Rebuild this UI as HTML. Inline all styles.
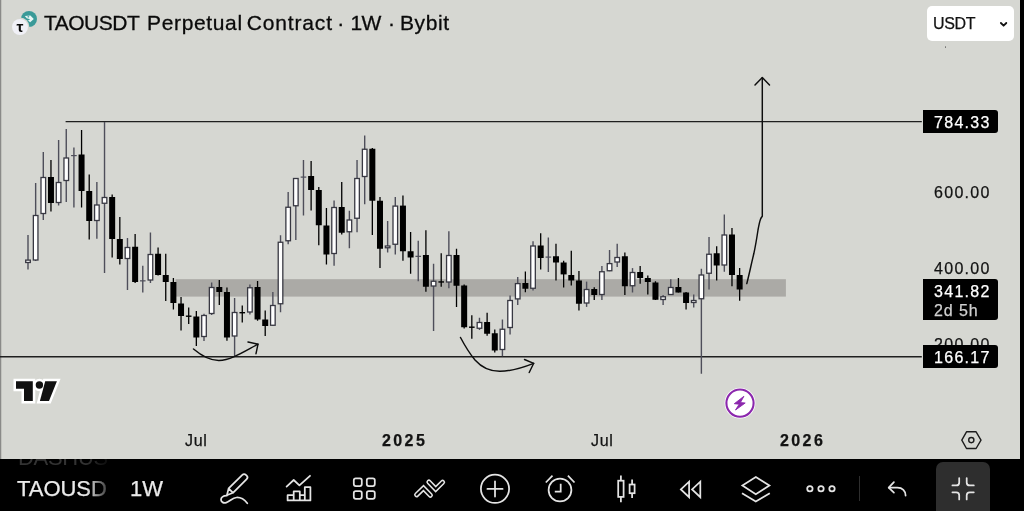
<!DOCTYPE html>
<html lang="en">
<head>
<meta charset="utf-8">
<title>TAOUSDT Perpetual Contract · 1W · Bybit</title>
<style>
  html, body { margin: 0; padding: 0; }
  body {
    width: 1024px; height: 511px; overflow: hidden; position: relative;
    background: #d6d7d2;
    font-family: "Liberation Sans", sans-serif;
    color: #131313;
  }
  .abs { position: absolute; white-space: nowrap; }
  #title, .pl, .pbox span, .tl, #usdt span, #sym, #tf, #ghost, .tau { will-change: transform; }
  #title, .pl, .pbox span, .tl, #usdt span, #sym, #tf { -webkit-text-stroke: 0.25px currentColor; }
  #chart { left: 0; top: 0; width: 1024px; height: 511px; }
  #leftedge { left: 0; top: 0; width: 2px; height: 459px; background: linear-gradient(90deg,#8a8a88 0,#8a8a88 1px,#c2c3be 1px,#c2c3be 2px); }
  #rightedge { left: 1019.8px; top: 0; width: 4.2px; height: 511px; background: #000; }
  #bar { left: 0; top: 458.6px; width: 1024px; height: 53px; background: #000; overflow: hidden; }

  #title { left: 44px; top: 11px; font-size: 21px; line-height: 24px; color: #0a0a0a; width: 420px; height: 24px; -webkit-text-stroke: 0.3px #0a0a0a !important; }
  #title .w { position: absolute; top: 0; white-space: pre; }
  .tau { left: 12.2px; top: 19.4px; width: 15.8px; height: 15.8px; border-radius: 50%; background: #f0f0f6;
         box-shadow: 0 0 0 1.4px #d6d7d2; text-align: center; font-size: 15.5px; line-height: 15px; font-weight: bold; color: #0b0b0b; }
  .teal { left: 21px; top: 10.8px; width: 16px; height: 16px; border-radius: 50%; background: #3a9a98; }

  #usdt { left: 927.3px; top: 5.6px; width: 86.8px; height: 35px; border-radius: 5px; background: #fff; }
  #usdt span { position: absolute; left: 6px; top: 9.3px; font-size: 16px; line-height: 18px; color: #131313; letter-spacing: -0.35px; }

  .pl { left: 934px; font-size: 16px; line-height: 18px; letter-spacing: 1.3px; color: #131313; }
  .pbox { left: 922.9px; width: 75px; background: #000; border-radius: 0 3px 3px 0; color: #fff; }
  .pbox span { position: absolute; left: 11.1px; font-size: 16px; line-height: 18px; letter-spacing: 1.3px; }

  .tl { font-size: 16px; line-height: 18px; color: #131313; top: 431.8px; letter-spacing: 0.7px; }
  .tl.b { font-weight: bold; letter-spacing: 2.4px; }

  #sym { left: 17px; top: 18px; font-size: 22px; line-height: 24px; color: #ebebeb; letter-spacing: -0.05px; }
  #tf { left: 129.6px; top: 18px; font-size: 22px; line-height: 24px; color: #ebebeb; letter-spacing: 0px; }
  #ghost { left: 18px; top: -13px; font-size: 22px; line-height: 24px; color: #333; letter-spacing: -0.3px; }
  #fade { left: 86px; top: 0; width: 26px; height: 53px; background: linear-gradient(90deg, rgba(0,0,0,0) 0%, rgba(0,0,0,0.9) 100%); }
  #collapse { left: 936px; top: 3px; width: 54px; height: 60px; border-radius: 7px; background: #2e2e2e; }
  #divider { left: 859px; top: 17px; width: 1px; height: 25px; background: #2e2e2e; }
</style>
</head>
<body>
<div id="leftedge" class="abs"></div>
<div id="chart" class="abs">
<svg width="1024" height="511" viewBox="0 0 1024 511" style="position:absolute;left:0;top:0">
  <!-- zone band -->
  <rect x="175.5" y="279.2" width="610.4" height="17.4" fill="#abaaa6"/>
  <!-- horizontal levels -->
  <line x1="65.6" y1="121.6" x2="921.8" y2="121.6" stroke="#1f1f1f" stroke-width="1.35"/>
  <line x1="0" y1="356.7" x2="921.8" y2="356.7" stroke="#1f1f1f" stroke-width="1.35"/>
  <!-- candles -->
  <line x1="28.00" y1="235.0" x2="28.00" y2="269.5" stroke="#4e4e5a" stroke-width="1.4"/>
<rect x="25.70" y="260.1" width="4.60" height="2.40" fill="#fff" stroke="#383842" stroke-width="1.3"/>
<line x1="35.65" y1="183.0" x2="35.65" y2="261.0" stroke="#4e4e5a" stroke-width="1.4"/>
<rect x="33.35" y="215.5" width="4.60" height="44.50" fill="#fff" stroke="#383842" stroke-width="1.3"/>
<line x1="43.30" y1="152.0" x2="43.30" y2="220.0" stroke="#4e4e5a" stroke-width="1.4"/>
<rect x="41.00" y="177.5" width="4.60" height="36.00" fill="#fff" stroke="#383842" stroke-width="1.3"/>
<line x1="50.96" y1="160.0" x2="50.96" y2="211.5" stroke="#000" stroke-width="1.3"/>
<rect x="47.96" y="177.0" width="6.00" height="26.00" fill="#000"/>
<line x1="58.61" y1="140.0" x2="58.61" y2="205.5" stroke="#4e4e5a" stroke-width="1.4"/>
<rect x="56.31" y="182.5" width="4.60" height="20.00" fill="#fff" stroke="#383842" stroke-width="1.3"/>
<line x1="66.26" y1="129.0" x2="66.26" y2="202.0" stroke="#4e4e5a" stroke-width="1.4"/>
<rect x="63.96" y="158.0" width="4.60" height="22.50" fill="#fff" stroke="#383842" stroke-width="1.3"/>
<line x1="73.91" y1="147.5" x2="73.91" y2="207.5" stroke="#4e4e5a" stroke-width="1.4"/>
<rect x="71.11" y="155.0" width="5.60" height="1.2" fill="#4e4e5a"/>
<line x1="81.56" y1="130.0" x2="81.56" y2="207.5" stroke="#000" stroke-width="1.3"/>
<rect x="78.56" y="154.5" width="6.00" height="36.50" fill="#000"/>
<line x1="89.22" y1="174.5" x2="89.22" y2="239.5" stroke="#000" stroke-width="1.3"/>
<rect x="86.22" y="191.0" width="6.00" height="30.00" fill="#000"/>
<line x1="96.87" y1="182.0" x2="96.87" y2="238.75" stroke="#4e4e5a" stroke-width="1.4"/>
<rect x="94.57" y="205.0" width="4.60" height="15.50" fill="#fff" stroke="#383842" stroke-width="1.3"/>
<line x1="104.52" y1="122.0" x2="104.52" y2="273.0" stroke="#4e4e5a" stroke-width="1.4"/>
<rect x="102.22" y="197.5" width="4.60" height="5.75" fill="#fff" stroke="#383842" stroke-width="1.3"/>
<line x1="112.17" y1="194.5" x2="112.17" y2="257.5" stroke="#000" stroke-width="1.3"/>
<rect x="109.17" y="197.0" width="6.00" height="42.00" fill="#000"/>
<line x1="119.82" y1="217.0" x2="119.82" y2="264.5" stroke="#000" stroke-width="1.3"/>
<rect x="116.82" y="239.0" width="6.00" height="20.00" fill="#000"/>
<line x1="127.48" y1="238.0" x2="127.48" y2="290.0" stroke="#4e4e5a" stroke-width="1.4"/>
<rect x="125.18" y="247.5" width="4.60" height="11.00" fill="#fff" stroke="#383842" stroke-width="1.3"/>
<line x1="135.13" y1="234.0" x2="135.13" y2="283.0" stroke="#000" stroke-width="1.3"/>
<rect x="132.13" y="246.75" width="6.00" height="35.25" fill="#000"/>
<line x1="142.78" y1="265.75" x2="142.78" y2="292.5" stroke="#4e4e5a" stroke-width="1.4"/>
<rect x="139.98" y="280.25" width="5.60" height="1.2" fill="#4e4e5a"/>
<line x1="150.43" y1="232.5" x2="150.43" y2="283.0" stroke="#4e4e5a" stroke-width="1.4"/>
<rect x="148.13" y="254.5" width="4.60" height="25.50" fill="#fff" stroke="#383842" stroke-width="1.3"/>
<line x1="158.08" y1="247.5" x2="158.08" y2="275.5" stroke="#000" stroke-width="1.3"/>
<rect x="155.08" y="253.75" width="6.00" height="21.25" fill="#000"/>
<line x1="165.74" y1="253.75" x2="165.74" y2="301.0" stroke="#000" stroke-width="1.3"/>
<rect x="162.74" y="275.0" width="6.00" height="7.00" fill="#000"/>
<line x1="173.39" y1="278.0" x2="173.39" y2="309.5" stroke="#000" stroke-width="1.3"/>
<rect x="170.39" y="282.0" width="6.00" height="21.00" fill="#000"/>
<line x1="181.04" y1="297.0" x2="181.04" y2="330.5" stroke="#000" stroke-width="1.3"/>
<rect x="178.04" y="303.5" width="6.00" height="12.50" fill="#000"/>
<line x1="188.69" y1="307.5" x2="188.69" y2="324.0" stroke="#000" stroke-width="1.3"/>
<rect x="185.89" y="315.5" width="5.60" height="1.4" fill="#000"/>
<line x1="196.34" y1="311.0" x2="196.34" y2="346.0" stroke="#000" stroke-width="1.3"/>
<rect x="193.34" y="316.5" width="6.00" height="21.00" fill="#000"/>
<line x1="204.00" y1="313.75" x2="204.00" y2="341.0" stroke="#4e4e5a" stroke-width="1.4"/>
<rect x="201.70" y="315.5" width="4.60" height="21.00" fill="#fff" stroke="#383842" stroke-width="1.3"/>
<line x1="211.65" y1="282.5" x2="211.65" y2="315.0" stroke="#4e4e5a" stroke-width="1.4"/>
<rect x="209.35" y="287.5" width="4.60" height="26.00" fill="#fff" stroke="#383842" stroke-width="1.3"/>
<line x1="219.30" y1="280.0" x2="219.30" y2="305.0" stroke="#000" stroke-width="1.3"/>
<rect x="216.30" y="287.0" width="6.00" height="5.00" fill="#000"/>
<line x1="226.95" y1="287.5" x2="226.95" y2="340.75" stroke="#000" stroke-width="1.3"/>
<rect x="223.95" y="292.0" width="6.00" height="45.50" fill="#000"/>
<line x1="234.60" y1="298.0" x2="234.60" y2="356.0" stroke="#4e4e5a" stroke-width="1.4"/>
<rect x="232.30" y="312.5" width="4.60" height="23.50" fill="#fff" stroke="#383842" stroke-width="1.3"/>
<line x1="242.26" y1="305.5" x2="242.26" y2="322.5" stroke="#000" stroke-width="1.3"/>
<rect x="239.46" y="312.0" width="5.60" height="1.4" fill="#000"/>
<line x1="249.91" y1="284.5" x2="249.91" y2="314.5" stroke="#4e4e5a" stroke-width="1.4"/>
<rect x="247.61" y="287.75" width="4.60" height="24.25" fill="#fff" stroke="#383842" stroke-width="1.3"/>
<line x1="257.56" y1="281.0" x2="257.56" y2="320.75" stroke="#000" stroke-width="1.3"/>
<rect x="254.56" y="287.0" width="6.00" height="32.50" fill="#000"/>
<line x1="265.21" y1="310.5" x2="265.21" y2="336.0" stroke="#000" stroke-width="1.3"/>
<rect x="262.21" y="319.5" width="6.00" height="6.50" fill="#000"/>
<line x1="272.86" y1="292.0" x2="272.86" y2="326.0" stroke="#4e4e5a" stroke-width="1.4"/>
<rect x="270.56" y="305.5" width="4.60" height="19.75" fill="#fff" stroke="#383842" stroke-width="1.3"/>
<line x1="280.52" y1="235.25" x2="280.52" y2="312.25" stroke="#4e4e5a" stroke-width="1.4"/>
<rect x="278.22" y="242.25" width="4.60" height="61.50" fill="#fff" stroke="#383842" stroke-width="1.3"/>
<line x1="288.17" y1="192.0" x2="288.17" y2="244.25" stroke="#4e4e5a" stroke-width="1.4"/>
<rect x="285.87" y="207.25" width="4.60" height="33.50" fill="#fff" stroke="#383842" stroke-width="1.3"/>
<line x1="295.82" y1="178.0" x2="295.82" y2="240.0" stroke="#4e4e5a" stroke-width="1.4"/>
<rect x="293.52" y="178.5" width="4.60" height="27.25" fill="#fff" stroke="#383842" stroke-width="1.3"/>
<line x1="303.47" y1="160.0" x2="303.47" y2="215.5" stroke="#4e4e5a" stroke-width="1.4"/>
<rect x="300.67" y="176.5" width="5.60" height="1.2" fill="#4e4e5a"/>
<line x1="311.12" y1="161.0" x2="311.12" y2="210.5" stroke="#000" stroke-width="1.3"/>
<rect x="308.12" y="176.0" width="6.00" height="14.00" fill="#000"/>
<line x1="318.78" y1="187.0" x2="318.78" y2="245.25" stroke="#000" stroke-width="1.3"/>
<rect x="315.78" y="190.0" width="6.00" height="35.25" fill="#000"/>
<line x1="326.43" y1="208.0" x2="326.43" y2="264.5" stroke="#000" stroke-width="1.3"/>
<rect x="323.43" y="225.5" width="6.00" height="29.00" fill="#000"/>
<line x1="334.08" y1="200.5" x2="334.08" y2="265.75" stroke="#4e4e5a" stroke-width="1.4"/>
<rect x="331.78" y="207.5" width="4.60" height="46.00" fill="#fff" stroke="#383842" stroke-width="1.3"/>
<line x1="341.73" y1="182.0" x2="341.73" y2="234.5" stroke="#000" stroke-width="1.3"/>
<rect x="338.73" y="207.0" width="6.00" height="25.75" fill="#000"/>
<line x1="349.38" y1="210.75" x2="349.38" y2="248.25" stroke="#4e4e5a" stroke-width="1.4"/>
<rect x="347.08" y="220.0" width="4.60" height="11.75" fill="#fff" stroke="#383842" stroke-width="1.3"/>
<line x1="357.04" y1="160.0" x2="357.04" y2="232.25" stroke="#4e4e5a" stroke-width="1.4"/>
<rect x="354.74" y="178.5" width="4.60" height="39.75" fill="#fff" stroke="#383842" stroke-width="1.3"/>
<line x1="364.69" y1="135.5" x2="364.69" y2="204.25" stroke="#4e4e5a" stroke-width="1.4"/>
<rect x="362.39" y="149.25" width="4.60" height="27.25" fill="#fff" stroke="#383842" stroke-width="1.3"/>
<line x1="372.34" y1="148.0" x2="372.34" y2="235.0" stroke="#000" stroke-width="1.3"/>
<rect x="369.34" y="148.75" width="6.00" height="52.00" fill="#000"/>
<line x1="379.99" y1="197.0" x2="379.99" y2="268.0" stroke="#000" stroke-width="1.3"/>
<rect x="376.99" y="200.75" width="6.00" height="48.00" fill="#000"/>
<line x1="387.64" y1="221.0" x2="387.64" y2="252.5" stroke="#4e4e5a" stroke-width="1.4"/>
<rect x="385.34" y="246.0" width="4.60" height="1.75" fill="#fff" stroke="#383842" stroke-width="1.3"/>
<line x1="395.30" y1="197.0" x2="395.30" y2="254.5" stroke="#4e4e5a" stroke-width="1.4"/>
<rect x="393.00" y="206.1" width="4.60" height="38.15" fill="#fff" stroke="#383842" stroke-width="1.3"/>
<line x1="402.95" y1="195.5" x2="402.95" y2="260.75" stroke="#000" stroke-width="1.3"/>
<rect x="399.95" y="205.6" width="6.00" height="45.65" fill="#000"/>
<line x1="410.60" y1="232.0" x2="410.60" y2="273.75" stroke="#000" stroke-width="1.3"/>
<rect x="407.60" y="251.25" width="6.00" height="6.25" fill="#000"/>
<line x1="418.25" y1="240.75" x2="418.25" y2="281.25" stroke="#4e4e5a" stroke-width="1.4"/>
<rect x="415.45" y="255.75" width="5.60" height="1.2" fill="#4e4e5a"/>
<line x1="425.90" y1="230.25" x2="425.90" y2="291.75" stroke="#000" stroke-width="1.3"/>
<rect x="422.90" y="255.0" width="6.00" height="31.75" fill="#000"/>
<line x1="433.56" y1="263.75" x2="433.56" y2="331.0" stroke="#4e4e5a" stroke-width="1.4"/>
<rect x="431.26" y="281.25" width="4.60" height="4.75" fill="#fff" stroke="#383842" stroke-width="1.3"/>
<line x1="441.21" y1="253.25" x2="441.21" y2="286.75" stroke="#000" stroke-width="1.3"/>
<rect x="438.41" y="281.25" width="5.60" height="1.4" fill="#000"/>
<line x1="448.86" y1="231.25" x2="448.86" y2="288.25" stroke="#4e4e5a" stroke-width="1.4"/>
<rect x="446.56" y="255.5" width="4.60" height="26.50" fill="#fff" stroke="#383842" stroke-width="1.3"/>
<line x1="456.51" y1="248.75" x2="456.51" y2="307.0" stroke="#000" stroke-width="1.3"/>
<rect x="453.51" y="255.0" width="6.00" height="30.75" fill="#000"/>
<line x1="464.16" y1="284.5" x2="464.16" y2="328.5" stroke="#000" stroke-width="1.3"/>
<rect x="461.16" y="285.5" width="6.00" height="41.75" fill="#000"/>
<line x1="471.82" y1="315.25" x2="471.82" y2="338.75" stroke="#000" stroke-width="1.3"/>
<rect x="469.02" y="326.5" width="5.60" height="1.4" fill="#000"/>
<line x1="479.47" y1="317.75" x2="479.47" y2="330.0" stroke="#4e4e5a" stroke-width="1.4"/>
<rect x="477.17" y="322.5" width="4.60" height="5.75" fill="#fff" stroke="#383842" stroke-width="1.3"/>
<line x1="487.12" y1="312.75" x2="487.12" y2="335.75" stroke="#000" stroke-width="1.3"/>
<rect x="484.12" y="322.0" width="6.00" height="11.75" fill="#000"/>
<line x1="494.77" y1="329.5" x2="494.77" y2="352.5" stroke="#000" stroke-width="1.3"/>
<rect x="491.77" y="333.25" width="6.00" height="17.25" fill="#000"/>
<line x1="502.42" y1="319.5" x2="502.42" y2="356.25" stroke="#4e4e5a" stroke-width="1.4"/>
<rect x="500.12" y="329.25" width="4.60" height="20.25" fill="#fff" stroke="#383842" stroke-width="1.3"/>
<line x1="510.08" y1="295.6" x2="510.08" y2="334.5" stroke="#4e4e5a" stroke-width="1.4"/>
<rect x="507.78" y="300.5" width="4.60" height="27.00" fill="#fff" stroke="#383842" stroke-width="1.3"/>
<line x1="517.73" y1="277.0" x2="517.73" y2="305.0" stroke="#4e4e5a" stroke-width="1.4"/>
<rect x="515.43" y="283.6" width="4.60" height="15.30" fill="#fff" stroke="#383842" stroke-width="1.3"/>
<line x1="525.38" y1="271.5" x2="525.38" y2="292.25" stroke="#000" stroke-width="1.3"/>
<rect x="522.38" y="283.0" width="6.00" height="5.75" fill="#000"/>
<line x1="533.03" y1="241.25" x2="533.03" y2="290.5" stroke="#4e4e5a" stroke-width="1.4"/>
<rect x="530.73" y="246.0" width="4.60" height="42.25" fill="#fff" stroke="#383842" stroke-width="1.3"/>
<line x1="540.68" y1="233.25" x2="540.68" y2="269.5" stroke="#000" stroke-width="1.3"/>
<rect x="537.68" y="245.5" width="6.00" height="12.50" fill="#000"/>
<line x1="548.34" y1="237.5" x2="548.34" y2="272.0" stroke="#4e4e5a" stroke-width="1.4"/>
<rect x="545.54" y="256.5" width="5.60" height="1.2" fill="#4e4e5a"/>
<line x1="555.99" y1="243.75" x2="555.99" y2="280.6" stroke="#000" stroke-width="1.3"/>
<rect x="552.99" y="256.25" width="6.00" height="6.25" fill="#000"/>
<line x1="563.64" y1="260.75" x2="563.64" y2="287.5" stroke="#000" stroke-width="1.3"/>
<rect x="560.64" y="262.5" width="6.00" height="11.90" fill="#000"/>
<line x1="571.29" y1="250.75" x2="571.29" y2="285.5" stroke="#000" stroke-width="1.3"/>
<rect x="568.29" y="275.0" width="6.00" height="5.50" fill="#000"/>
<line x1="578.94" y1="271.0" x2="578.94" y2="310.6" stroke="#000" stroke-width="1.3"/>
<rect x="575.94" y="280.5" width="6.00" height="23.25" fill="#000"/>
<line x1="586.60" y1="281.6" x2="586.60" y2="306.9" stroke="#4e4e5a" stroke-width="1.4"/>
<rect x="584.30" y="289.5" width="4.60" height="13.50" fill="#fff" stroke="#383842" stroke-width="1.3"/>
<line x1="594.25" y1="287.25" x2="594.25" y2="300.0" stroke="#000" stroke-width="1.3"/>
<rect x="591.25" y="289.0" width="6.00" height="6.00" fill="#000"/>
<line x1="601.90" y1="266.0" x2="601.90" y2="300.0" stroke="#4e4e5a" stroke-width="1.4"/>
<rect x="599.60" y="271.75" width="4.60" height="22.75" fill="#fff" stroke="#383842" stroke-width="1.3"/>
<line x1="609.55" y1="250.0" x2="609.55" y2="271.25" stroke="#4e4e5a" stroke-width="1.4"/>
<rect x="607.25" y="263.6" width="4.60" height="7.15" fill="#fff" stroke="#383842" stroke-width="1.3"/>
<line x1="617.20" y1="243.75" x2="617.20" y2="267.0" stroke="#4e4e5a" stroke-width="1.4"/>
<rect x="614.90" y="257.5" width="4.60" height="4.50" fill="#fff" stroke="#383842" stroke-width="1.3"/>
<line x1="624.86" y1="252.5" x2="624.86" y2="295.0" stroke="#000" stroke-width="1.3"/>
<rect x="621.86" y="256.25" width="6.00" height="30.00" fill="#000"/>
<line x1="632.51" y1="268.1" x2="632.51" y2="292.5" stroke="#4e4e5a" stroke-width="1.4"/>
<rect x="630.21" y="272.5" width="4.60" height="13.25" fill="#fff" stroke="#383842" stroke-width="1.3"/>
<line x1="640.16" y1="266.0" x2="640.16" y2="283.75" stroke="#000" stroke-width="1.3"/>
<rect x="637.16" y="272.0" width="6.00" height="6.00" fill="#000"/>
<line x1="647.81" y1="275.6" x2="647.81" y2="294.5" stroke="#000" stroke-width="1.3"/>
<rect x="644.81" y="278.0" width="6.00" height="4.00" fill="#000"/>
<line x1="655.46" y1="281.25" x2="655.46" y2="300.0" stroke="#000" stroke-width="1.3"/>
<rect x="652.46" y="282.5" width="6.00" height="17.25" fill="#000"/>
<line x1="663.12" y1="295.0" x2="663.12" y2="305.0" stroke="#4e4e5a" stroke-width="1.4"/>
<rect x="660.82" y="296.75" width="4.60" height="2.75" fill="#fff" stroke="#383842" stroke-width="1.3"/>
<line x1="670.77" y1="279.25" x2="670.77" y2="295.0" stroke="#4e4e5a" stroke-width="1.4"/>
<rect x="668.47" y="287.5" width="4.60" height="7.00" fill="#fff" stroke="#383842" stroke-width="1.3"/>
<line x1="678.42" y1="278.0" x2="678.42" y2="292.5" stroke="#000" stroke-width="1.3"/>
<rect x="675.42" y="287.0" width="6.00" height="5.50" fill="#000"/>
<line x1="686.07" y1="292.0" x2="686.07" y2="309.5" stroke="#000" stroke-width="1.3"/>
<rect x="683.07" y="292.5" width="6.00" height="10.50" fill="#000"/>
<line x1="693.72" y1="294.5" x2="693.72" y2="307.5" stroke="#4e4e5a" stroke-width="1.4"/>
<rect x="691.42" y="300.5" width="4.60" height="2.00" fill="#fff" stroke="#383842" stroke-width="1.3"/>
<line x1="701.38" y1="268.75" x2="701.38" y2="373.75" stroke="#4e4e5a" stroke-width="1.4"/>
<rect x="699.08" y="275.0" width="4.60" height="23.75" fill="#fff" stroke="#383842" stroke-width="1.3"/>
<line x1="709.03" y1="237.0" x2="709.03" y2="289.5" stroke="#4e4e5a" stroke-width="1.4"/>
<rect x="706.73" y="254.25" width="4.60" height="19.00" fill="#fff" stroke="#383842" stroke-width="1.3"/>
<line x1="716.68" y1="246.25" x2="716.68" y2="280.5" stroke="#000" stroke-width="1.3"/>
<rect x="713.68" y="253.25" width="6.00" height="12.25" fill="#000"/>
<line x1="724.33" y1="214.5" x2="724.33" y2="271.75" stroke="#4e4e5a" stroke-width="1.4"/>
<rect x="722.03" y="235.0" width="4.60" height="30.00" fill="#fff" stroke="#383842" stroke-width="1.3"/>
<line x1="731.98" y1="228.0" x2="731.98" y2="286.25" stroke="#000" stroke-width="1.3"/>
<rect x="728.98" y="234.5" width="6.00" height="40.50" fill="#000"/>
<line x1="739.64" y1="268.0" x2="739.64" y2="300.75" stroke="#000" stroke-width="1.3"/>
<rect x="736.64" y="275.0" width="6.00" height="14.50" fill="#000"/>
  <!-- drawings -->
  <g fill="none" stroke="#0d0d0d" stroke-width="1.45" stroke-linecap="round" stroke-linejoin="round">
    <path d="M193.5 349 C203 357 212 360.6 219 360.5 C231 360.3 245 351 258 344.2"/>
    <path d="M248 342 L258 344.2 L256 353.7"/>
    <path d="M460.5 337.5 C465 346 470 354 475 360 C483 369 491 371.4 500 371.3 C511 371.2 523 367.5 533.7 363.3"/>
    <path d="M524.5 359.5 L533.7 363.3 L529.2 372.5"/>
    <path d="M746.8 283.6 C749.5 273 751.5 263 753.8 253.8 C755.5 246 756.8 238 758 230 C758.8 225.5 759.5 222 760.5 219.2 C761 217.8 761.8 216.8 762.3 216.2 L762.3 77.6"/>
    <path d="M755 85 L762.3 77.6 L769.5 85"/>
  </g>
  <!-- tradingview logo -->
  <g stroke="#fff" stroke-width="5" stroke-linejoin="miter" fill="#fff">
    <path d="M16 381.3 H32.8 V401 H24 V388.8 H16 Z"/>
    <circle cx="39.4" cy="385" r="3.7"/>
    <path d="M45.2 381.3 H56.9 L49 401 H39.9 Z"/>
  </g>
  <g fill="#111">
    <path d="M16 381.3 H32.8 V401 H24 V388.8 H16 Z"/>
    <circle cx="39.4" cy="385" r="3.7"/>
    <path d="M45.2 381.3 H56.9 L49 401 H39.9 Z"/>
  </g>
  <!-- flash icon -->
  <circle cx="740" cy="403.1" r="15.4" fill="#fff"/>
  <circle cx="740" cy="403.1" r="13.6" fill="#fff" stroke="#8b27ad" stroke-width="2.1"/>
  <path d="M743.9 396.3 L734.3 403.7 L739.2 404.2 L735.5 410 L745.2 403 L740.4 402.6 Z" fill="#8b27ad" stroke="#8b27ad" stroke-width="0.9" stroke-linejoin="round"/>
  <!-- settings hexagon -->
  <g fill="none" stroke="#1c1c1c" stroke-width="1.4" stroke-linejoin="round">
    <path d="M961.8 440.1 L966.5 431.8 H976.1 L981 440.1 L976.1 448.5 H966.5 Z"/>
    <circle cx="971.3" cy="440.1" r="2.6"/>
  </g>
  <!-- usdt chevron -->
  <rect x="945" y="46.4" width="0.9" height="1.4" fill="#555"/>
  <!-- teal logo inner mark -->
</svg>

<div class="abs teal"></div>
<svg class="abs" style="left:21px;top:10.8px" width="16" height="16" viewBox="0 0 16 16"><path d="M3.8 5 L9.4 4.5 L12.8 7.9 L9.2 11.3 L7 9.4 L9.2 8.3 L5.8 7.2 Z" fill="#e9f6f5"/><path d="M6.4 5.8 L8.2 5.7 M7.3 5 L7.4 6.6" stroke="#3a9a98" stroke-width="0.7" fill="none"/></svg>
<div class="abs tau">τ</div>
<div id="title" class="abs"><span class="w" style="left:0px;letter-spacing:-0.5px">TAOUSDT </span><span class="w" style="left:103px;letter-spacing:0.65px">Perpetual </span><span class="w" style="left:202.7px;letter-spacing:0.85px">Contract </span><span class="w" style="left:293.2px">· </span><span class="w" style="left:306.6px;letter-spacing:-0.7px">1W </span><span class="w" style="left:344.1px">· </span><span class="w" style="left:356px;letter-spacing:0.6px">Bybit</span></div>

<div id="usdt" class="abs"><span>USDT</span><svg width="87" height="35" viewBox="927.3 5.6 87 35" style="position:absolute;left:0;top:0"><path d="M1001.2 22.6 L1003.9 25.3 L1006.6 22.6" fill="none" stroke="#131313" stroke-width="1.8" stroke-linecap="round" stroke-linejoin="round"/></svg></div>

<!-- price scale -->
<div class="abs pl" style="top:107.7px;">800.00</div>
<div class="abs pl" style="top:183.6px;">600.00</div>
<div class="abs pl" style="top:259.8px;">400.00</div>
<div class="abs pl" style="top:335.9px;">200.00</div>
<div class="abs pbox" style="top:110px;height:23.2px;"><span style="top:4.4px;">784.33</span></div>
<div class="abs pbox" style="top:279px;height:41px;"><span style="top:3.7px;">341.82</span><span style="top:22.7px;color:#d0d0d0;letter-spacing:0.9px;">2d 5h</span></div>
<div class="abs pbox" style="top:345.2px;height:22.6px;"><span style="top:3.7px;">166.17</span></div>

<!-- time scale -->
<div class="abs tl" style="left:184.8px;">Jul</div>
<div class="abs tl b" style="left:381.6px;">2025</div>
<div class="abs tl" style="left:590.8px;">Jul</div>
<div class="abs tl b" style="left:779.6px;">2026</div>
</div>


<div id="bar" class="abs">
  <div id="ghost" class="abs">DASHUS</div>
  <div id="sym" class="abs">TAOUSD</div>
  <div id="fade" class="abs"></div>
  <div id="tf" class="abs">1W</div>
  <div id="divider" class="abs"></div>
  <div id="collapse" class="abs"></div>
  <svg width="1024" height="53" viewBox="0 458.6 1024 53" style="position:absolute;left:0;top:0">
    <g fill="none" stroke="#e4e4e4" stroke-width="1.75" stroke-linecap="round" stroke-linejoin="round">
      <!-- pencil -->
      <g transform="translate(230.8 490.25) rotate(-45)"><path d="M0 -3.05 H19.4 A2.45 2.45 0 0 1 21.85 -0.6 V0.6 A2.45 2.45 0 0 1 19.4 3.05 H0 Z M0 -3.05 L-6 0.5 L0 3.05"/></g>
      <path d="M226.7 495.3 C223 495.3 220.9 497.2 221 499.4 C221.1 501.8 223.6 503 226.2 502.2 C229.8 501.1 232.4 497.3 236.6 497.1 C241 496.9 244.6 499.4 247.3 502.8"/>
      <!-- chart -->
      <path d="M286.6 486.2 L293.7 479.6 L299.4 485 L310 475.4"/>
      <path d="M287.6 500 V494.8 H293.7 V491 H299.8 V494.8 H304.8 V486.8 H310.4 V500 Z M293.7 494.8 V500 M299.8 494.8 V500 M304.8 494.8 V500"/>
      <!-- grid -->
      <rect x="353.8" y="477.9" width="8" height="7.8" rx="2"/>
      <rect x="366.8" y="477.9" width="8" height="7.8" rx="2"/>
      <rect x="353.8" y="490.6" width="8" height="7.8" rx="2"/>
      <rect x="366.8" y="490.6" width="8" height="7.8" rx="2"/>
      <!-- plus -->
      <circle cx="495" cy="488.4" r="14.1"/>
      <path d="M487.4 488.5 H502.6 M495 480.9 V496.1"/>
      <!-- alarm -->
      <circle cx="560" cy="489.6" r="11.4"/>
      <path d="M545.8 482.1 L552.5 475.3 M567.9 475.3 L574.5 482.1" stroke-linecap="butt"/>
      <path d="M560.7 483.4 V491.2 H554.8" stroke-linecap="butt" stroke-linejoin="miter"/>
      <!-- candles -->
      <rect x="618.2" y="480.3" width="5.4" height="16.2" stroke-linejoin="miter"/>
      <path d="M620.9 475.2 V480.3 M620.9 496.5 V501.8" stroke-linecap="butt"/>
      <rect x="629.6" y="484.1" width="5" height="8.7" stroke-linejoin="miter"/>
      <path d="M632.1 479.2 V484.1 M632.1 492.8 V497.6" stroke-linecap="butt"/>
      <!-- rewind -->
      <path d="M680.9 489 L689.1 481.3 V496.8 Z M692.1 489 L700.3 481.3 V496.8 Z" stroke-linejoin="miter"/>
      <!-- layers -->
      <path d="M755.8 476.7 L769.4 485.2 L755.8 493.8 L742.4 485.2 Z" stroke-linejoin="miter"/>
      <path d="M742 492.8 L755.8 501.2 L769.8 492.8" stroke-linecap="butt" stroke-linejoin="miter"/>
      <!-- dots -->
      <circle cx="809.9" cy="488.4" r="2.7"/>
      <circle cx="821" cy="488.4" r="2.7"/>
      <circle cx="832" cy="488.4" r="2.7"/>
      <!-- undo -->
      <path d="M893.9 481.8 L888.7 487.3 L893.9 492.2" />
      <path d="M889 487.3 H897.4 C902.4 487.3 905.6 490.6 905.6 495.2"/>
      <!-- collapse -->
      <path d="M959.2 477.6 V482 Q959.2 485 956.2 485 H952.4"/>
      <path d="M966.7 477.6 V482 Q966.7 485 969.7 485 H973.8"/>
      <path d="M952.4 491.9 H956.2 Q959.2 491.9 959.2 494.9 V499"/>
      <path d="M973.8 491.9 H969.7 Q966.7 491.9 966.7 494.9 V499"/>
    </g>
    <!-- indicators zigzag (outlined) -->
    <g fill="none" stroke-linecap="round" stroke-linejoin="miter">
      <path d="M416.6 494.4 L423.5 487.7 L430.4 494.8" stroke="#e4e4e4" stroke-width="5.1"/>
      <path d="M428.9 481.6 L435.7 488.7 L442.6 481.8" stroke="#e4e4e4" stroke-width="5.1"/>
      <path d="M416.6 494.4 L423.5 487.7 L430.4 494.8" stroke="#000" stroke-width="2"/>
      <path d="M428.9 481.6 L435.7 488.7 L442.6 481.8" stroke="#000" stroke-width="2"/>
    </g>
  </svg>
</div>
<div id="rightedge" class="abs"></div>
</body>
</html>
